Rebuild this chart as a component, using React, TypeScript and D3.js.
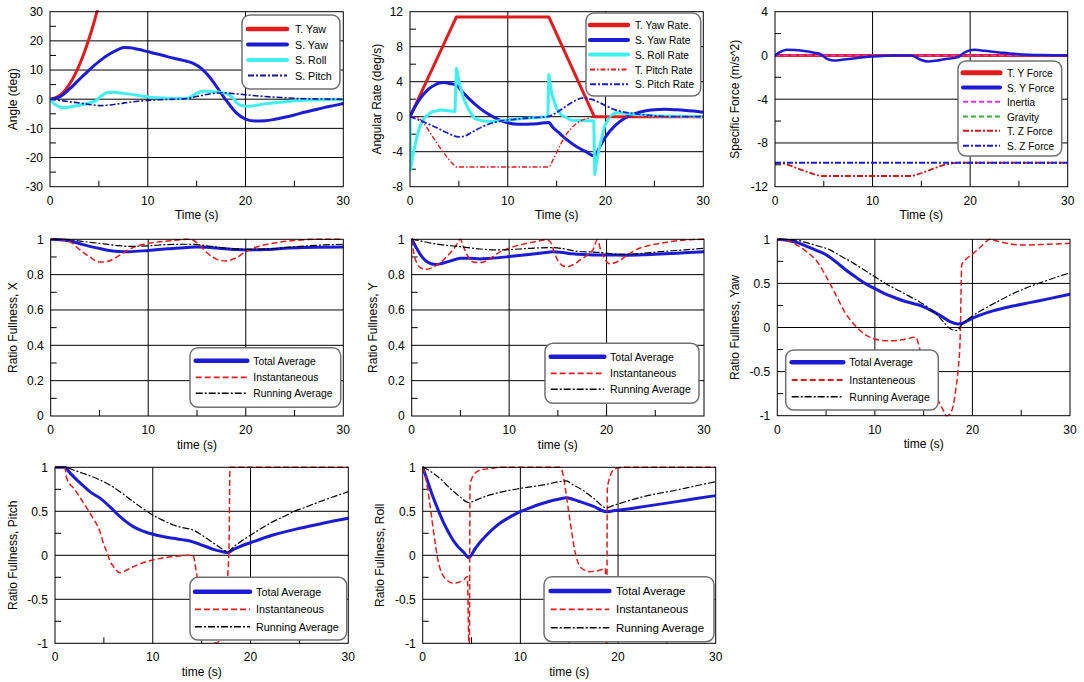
import React from 'react';
import * as d3 from 'd3';

type Pt = [number, number];

// ---------- shared axis values ----------
const timeTicks = [0, 10, 20, 30];
const timeMinor = [5, 15, 25];
const angleTicks = [-30, -20, -10, 0, 10, 20, 30];
const angleMinor = [-25, -15, -5, 5, 15, 25];
const rateTicks = [-8, -4, 0, 4, 8, 12];
const rateMinor = [-6, -2, 2, 6, 10];
const forceTicks = [-12, -8, -4, 0, 4];
const forceMinor = [-10, -6, -2, 2];
const fullTicks01 = [0, 0.2, 0.4, 0.6, 0.8, 1];
const fullMinor01 = [0.1, 0.3, 0.5, 0.7, 0.9];
const fullTicksPM = [-1, -0.5, 0, 0.5, 1];
const fullMinorPM = [-0.75, -0.25, 0.25, 0.75];

// ---------- panel 1: angles ----------
const angleTYaw: Pt[] = [[0,0],[1,1.3],[1.5,2.9],[2,5.2],[2.5,8.1],[3,11.7],[3.5,15.9],[4,20.8],[4.5,26.3],[5,32.5],[5.5,39]];
const angleSYaw: Pt[] = [[0,0],[1,0.8],[2,3.5],[3,6.8],[4,10],[5,12.9],[6,15.3],[7,17.1],[7.6,17.7],[8.2,17.6],[9,17.1],[10,16.3],[11,15.5],[12,14.6],[13,13.8],[14,13.0],[14.7,12.2],[15.5,10.5],[16.3,7.7],[17,4.5],[18,-0.3],[19,-4.5],[20,-6.8],[21,-7.5],[22,-7.4],[23,-6.9],[24,-6.2],[25,-5.4],[26,-4.5],[27,-3.7],[28,-2.9],[29,-2.2],[30,-1.5]];
const angleSRoll: Pt[] = [[0,0],[0.5,-1.8],[1,-2.7],[1.5,-2.9],[2,-2.7],[3,-2.1],[4,-1.3],[4.7,-0.5],[5.2,1.0],[5.8,2.2],[6.5,2.4],[7.5,2.0],[9,1.3],[10,0.8],[11,0.5],[12,0.3],[13,0.2],[14,0.2],[14.4,0.8],[15,2.0],[15.7,2.7],[16.5,2.6],[17.3,2.4],[18,2.0],[18.7,0.5],[19.3,-1.8],[20,-2.4],[20.7,-2.3],[22,-1.6],[24,-0.9],[26,-0.4],[28,-0.2],[30,-0.1]];
const angleSPitch: Pt[] = [[0,0],[1,-0.4],[2,-0.9],[3,-1.3],[4,-1.8],[5.3,-2.2],[6,-2.0],[7,-1.6],[8,-1.1],[9,-0.7],[10,-0.4],[11,-0.2],[12,-0.1],[13,0],[14,0.2],[15,0.9],[16,1.6],[17,2.1],[17.7,2.2],[18.5,2.0],[19.5,1.7],[21,1.2],[22.5,0.8],[24,0.5],[25.5,0.2],[27,0.1],[30,0]];

// ---------- panel 2: angular rates ----------
const rateTYaw: Pt[] = [[0,0],[4.75,11.4],[14.2,11.4],[18.85,0],[30,0]];
const rateSYaw: Pt[] = [[0,0],[0.5,1.1],[1,2.0],[1.5,2.7],[2,3.25],[2.5,3.6],[3,3.85],[3.5,3.9],[4,3.8],[4.75,3.6],[5.3,2.9],[6,2.1],[7,1.1],[8,0.3],[9,-0.3],[10,-0.7],[11,-0.85],[12,-0.85],[13,-0.8],[14.2,-0.65],[14.6,-1.2],[15.2,-1.8],[16,-2.6],[17,-3.4],[18,-4.0],[18.9,-4.5],[19.3,-3.7],[20,-2.3],[21,-1.0],[22,-0.15],[23,0.35],[24,0.65],[25,0.8],[26,0.85],[27,0.8],[28,0.75],[29,0.65],[30,0.5]];
const rateSRoll: Pt[] = [[0,0],[0.05,-6.1],[0.25,-4.6],[0.5,-3.4],[0.75,-2.1],[1,-1.1],[1.5,-0.1],[2.2,0.55],[3.2,0.76],[4.6,0.6],[4.75,5.5],[5.1,3.6],[5.5,2.0],[6,0.8],[6.6,-0.2],[7.5,-0.5],[8.5,-0.55],[9.7,-0.4],[11,-0.25],[13,-0.1],[14.1,0],[14.2,4.8],[14.5,2.6],[15,0.9],[15.5,0.2],[16.5,-0.4],[18.8,-0.5],[18.9,-6.6],[19.1,-5.0],[19.4,-3.4],[19.9,-1.1],[20.4,0],[21,0.45],[22,0.4],[23,0.25],[25,0.1],[27,0.05],[30,0]];
const rateTPitch: Pt[] = [[0,0],[0.8,-0.1],[1.5,-0.9],[2.5,-2.6],[3.5,-4.2],[4.3,-5.3],[4.8,-5.75],[14.2,-5.75],[14.6,-5.0],[15.3,-3.4],[16,-2.0],[16.8,-1.0],[17.6,-0.4],[18.5,-0.1],[19,0],[30,0]];
const rateSPitch: Pt[] = [[0,0],[1,-0.4],[2,-0.9],[3,-1.4],[4,-1.95],[5,-2.3],[5.5,-2.25],[6.3,-1.8],[7.3,-1.2],[8.3,-0.75],[9.5,-0.45],[10.7,-0.3],[12,-0.15],[13,-0.08],[14.1,0],[14.8,0.35],[15.5,0.85],[16.3,1.45],[17,1.9],[17.7,2.15],[18.5,2.0],[19.6,1.5],[20.8,0.85],[22,0.5],[23,0.35],[25,0.1],[27,0],[30,0]];

// ---------- panel 3: specific forces ----------
const forceGravity: Pt[] = [[0,0],[30,0]];
const forceTY: Pt[] = [[0,0],[30,0]];
const forceInertia: Pt[] = [[0,0],[30,0]];
const forceSY: Pt[] = [[0,0],[0.5,0.3],[1.2,0.52],[2,0.5],[3,0.4],[4,0.25],[4.7,0.1],[5.3,-0.3],[6,-0.46],[7,-0.38],[8,-0.28],[9.5,-0.12],[11,-0.05],[12.5,0],[14,0],[14.5,-0.2],[15,-0.42],[15.7,-0.55],[16.5,-0.48],[17.5,-0.32],[18.8,-0.15],[19.3,0.2],[19.8,0.42],[20.5,0.52],[21.5,0.42],[23,0.28],[24.5,0.15],[26,0.07],[27.5,0.03],[30,0]];
const forceTZ: Pt[] = [[0,-9.81],[0.7,-9.85],[1.5,-10.05],[2.5,-10.4],[3.5,-10.7],[4.3,-10.93],[5,-11.02],[14,-11.02],[14.5,-10.9],[15.5,-10.6],[16.5,-10.25],[17.5,-9.97],[18.5,-9.83],[19,-9.81],[30,-9.81]];
const forceSZ: Pt[] = [[0,-9.81],[30,-9.81]];

// ---------- panel 4: fullness X ----------
const fullXTotal: Pt[] = [[0,1],[1,0.998],[2,0.99],[3,0.975],[4,0.96],[5,0.948],[6,0.937],[7,0.931],[8,0.93],[10,0.937],[12,0.946],[14,0.954],[15,0.957],[16,0.955],[17.5,0.948],[19,0.942],[20,0.94],[22,0.942],[24,0.949],[26,0.953],[28,0.955],[30,0.957]];
const fullXInst: Pt[] = [[0,1],[1,0.999],[2,0.985],[3,0.94],[4,0.9],[5,0.872],[5.5,0.872],[6.5,0.89],[7.5,0.925],[8.5,0.955],[10,0.977],[12,0.99],[14,1.0],[14.6,0.995],[15.3,0.965],[16,0.925],[17,0.888],[17.9,0.877],[19,0.895],[20,0.93],[21,0.955],[22.5,0.975],[25,0.993],[27,1.0],[30,1.0]];
const fullXRun: Pt[] = [[0,1],[2,0.998],[3,0.99],[5,0.977],[7,0.964],[8,0.96],[10,0.963],[12,0.97],[14,0.972],[15,0.97],[16.5,0.96],[18,0.95],[20,0.943],[22,0.944],[24,0.953],[26,0.962],[28,0.968],[30,0.972]];

// ---------- panel 5: fullness Y ----------
const fullYTotal: Pt[] = [[0,1],[0.25,0.975],[0.5,0.95],[1,0.905],[1.5,0.876],[2,0.862],[2.5,0.858],[3,0.862],[4,0.878],[5,0.893],[6,0.893],[7,0.889],[8,0.892],[10,0.902],[12,0.914],[14,0.927],[14.5,0.93],[15.5,0.925],[16.5,0.918],[18,0.913],[19,0.911],[20,0.911],[22,0.91],[24,0.913],[26,0.918],[28,0.924],[30,0.93]];
const fullYInst: Pt[] = [[0,1],[0.35,0.89],[1,0.836],[1.5,0.83],[2,0.837],[2.6,0.855],[3.2,0.88],[3.9,0.92],[4.5,0.96],[5,1.0],[5.3,0.96],[5.7,0.91],[6.3,0.872],[7,0.868],[7.6,0.876],[8.3,0.9],[9.1,0.93],[10,0.95],[11.1,0.968],[12.5,0.985],[13.9,0.996],[14.3,0.98],[14.6,0.93],[15,0.88],[15.5,0.85],[16,0.845],[16.7,0.86],[17.3,0.883],[18,0.91],[18.6,0.94],[19.05,0.996],[19.4,0.94],[19.8,0.89],[20.3,0.862],[21,0.87],[22,0.905],[22.8,0.935],[24,0.96],[25.5,0.977],[27,0.99],[28.5,0.997],[30,1.0]];
const fullYRun: Pt[] = [[0,1],[1,0.99],[2,0.978],[3.25,0.968],[5,0.958],[7,0.945],[9,0.94],[11,0.945],[12.5,0.95],[14.5,0.953],[16,0.942],[17,0.932],[19.3,0.926],[21.4,0.915],[23,0.918],[25.5,0.93],[28,0.94],[30,0.949]];

// ---------- panel 6: fullness yaw ----------
const fullYawTotal: Pt[] = [[0,1],[1,0.99],[2,0.965],[3,0.92],[4,0.875],[5,0.825],[6,0.745],[7,0.655],[8,0.575],[9,0.5],[10,0.44],[11,0.385],[12,0.34],[13,0.3],[14,0.27],[15,0.235],[16,0.18],[17,0.115],[17.7,0.066],[18.5,0.04],[19,0.05],[19.5,0.078],[20.5,0.128],[22,0.185],[24,0.24],[26,0.285],[28,0.33],[30,0.376]];
const fullYawInst: Pt[] = [[0,1],[1,0.985],[2,0.935],[3,0.86],[4,0.76],[5,0.58],[6,0.37],[7,0.16],[8,0.02],[9,-0.08],[10,-0.13],[11,-0.15],[12,-0.15],[13,-0.135],[14.2,-0.11],[14.6,-0.24],[15.3,-0.45],[16,-0.69],[16.6,-0.85],[17,-0.935],[17.35,-1.0],[17.7,-0.98],[18,-0.9],[18.3,-0.7],[18.55,-0.46],[18.75,-0.1],[18.85,0.5],[18.9,0.71],[19.5,0.79],[20.1,0.84],[21,0.93],[21.8,1.0],[22.5,0.98],[23.5,0.955],[25.2,0.935],[27,0.94],[30,0.955]];
const fullYawRun: Pt[] = [[0,1],[2,0.99],[2.7,0.97],[4,0.93],[5.4,0.88],[6.5,0.81],[7.8,0.73],[9,0.645],[10.2,0.56],[11.4,0.48],[12.6,0.41],[13.6,0.35],[14.6,0.29],[15.3,0.24],[16,0.18],[16.5,0.13],[17,0.066],[17.7,-0.01],[18.4,-0.035],[18.9,0.03],[19.6,0.1],[20.4,0.16],[21.5,0.23],[22.5,0.29],[23.7,0.36],[24.9,0.42],[26,0.47],[27.3,0.52],[28.6,0.57],[30,0.62]];

// ---------- panel 7: fullness pitch ----------
const fullPitchTotal: Pt[] = [[0,1],[1,1],[1.5,0.94],[2.2,0.86],[2.9,0.79],[3.6,0.72],[4.6,0.65],[5.6,0.553],[6.65,0.44],[7.3,0.38],[8,0.326],[9,0.275],[10,0.239],[11,0.214],[12.1,0.193],[13,0.178],[13.8,0.163],[14.8,0.125],[15.5,0.097],[16.2,0.068],[17,0.045],[17.7,0.03],[18.3,0.07],[18.9,0.098],[20.3,0.155],[22.3,0.23],[25,0.307],[27.4,0.364],[30,0.42]];
const fullPitchInst: Pt[] = [[0,1],[1,1],[1.2,0.875],[2,0.75],[2.6,0.65],[3.3,0.53],[3.9,0.42],[4.6,0.27],[5,0.12],[5.3,0.04],[5.6,-0.06],[6,-0.13],[6.65,-0.197],[7.3,-0.17],[8,-0.13],[9,-0.085],[10,-0.053],[11,-0.03],[12.1,-0.015],[13,-0.005],[14.1,0],[14.5,-0.22],[15,-0.55],[15.8,-0.9],[16.5,-1.0],[17.2,-0.85],[17.55,-0.6],[17.66,-0.26],[17.8,0.1],[17.9,1.0],[30,1.0]];
const fullPitchRun: Pt[] = [[0,1],[1,1],[2,0.965],[2.9,0.93],[4.6,0.856],[5.6,0.8],[6.8,0.71],[8,0.61],[9,0.53],[10,0.458],[11,0.4],[12.1,0.345],[13,0.315],[14.1,0.288],[14.8,0.245],[15.5,0.193],[16.2,0.14],[16.9,0.087],[17.7,0.042],[18.3,0.1],[18.9,0.148],[20.3,0.25],[21.3,0.32],[22.3,0.383],[23.4,0.44],[24.4,0.496],[25.7,0.55],[27.1,0.61],[28.6,0.67],[30,0.723]];

// ---------- panel 8: fullness roll ----------
const fullRollTotal: Pt[] = [[0,1],[0.4,0.875],[0.75,0.76],[1.1,0.65],[1.6,0.51],[2.1,0.38],[2.6,0.27],[3.1,0.174],[3.6,0.1],[4.2,0.035],[4.7,-0.027],[5.4,0.08],[6,0.165],[6.55,0.23],[7.2,0.3],[7.9,0.364],[9,0.44],[10,0.496],[11,0.54],[12,0.58],[13,0.615],[14,0.64],[14.7,0.655],[15.4,0.635],[16.1,0.61],[17.5,0.555],[18.8,0.496],[19.5,0.505],[20.2,0.515],[22.6,0.553],[26,0.61],[28,0.645],[30,0.678]];
const fullRollInst: Pt[] = [[0,1],[0.24,0.91],[0.5,0.76],[0.75,0.57],[1,0.36],[1.26,0.155],[1.5,-0.02],[1.77,-0.148],[2.1,-0.23],[2.46,-0.28],[3.1,-0.318],[3.6,-0.31],[4.2,-0.28],[4.57,-0.24],[4.65,-0.6],[4.72,-1.0],[4.78,-1.0],[4.85,0.8],[5.2,0.91],[5.9,0.97],[7.2,0.99],[8,1.0],[14,1.0],[14.3,0.95],[14.6,0.76],[15.1,0.38],[15.6,0.04],[16.1,-0.13],[16.6,-0.17],[17.1,-0.186],[18.2,-0.167],[18.7,-0.148],[18.75,-0.6],[18.8,-1.0],[18.85,-1.0],[18.9,0.75],[19.2,0.9],[19.5,0.97],[20.5,1.0],[30,1.0]];
const fullRollRun: Pt[] = [[0,1],[0.5,0.975],[1.1,0.93],[2,0.85],[2.8,0.76],[3.8,0.667],[4.7,0.6],[5.3,0.62],[5.9,0.648],[7,0.69],[7.9,0.716],[10,0.76],[12.35,0.8],[14.7,0.845],[15.4,0.8],[16.1,0.76],[17.5,0.648],[18.8,0.54],[19.5,0.565],[20.2,0.59],[22.6,0.667],[26,0.742],[28,0.79],[30,0.837]];

// ---------- styles ----------
const RED = '#e01c1c';
const BLUE = '#1c1cd4';
const CYAN = '#40f0f0';
const NAVY = '#14149a';
const DKRED = '#c81a1a';
const MAGENTA = '#dd38dd';
const GREEN = '#3aaa3a';
const BLACK = '#000000';
const FONT = "'Liberation Sans', Arial, Helvetica, sans-serif";

interface Series {
  name?: string;
  data: Pt[];
  color: string;
  w: number;
  lw?: number;
  dash?: string;
  linear?: boolean;
}
interface Legend {
  x: number; y: number; w: number; h: number;
  rows: number[]; lx0: number; lx1: number; tx: number; sx: number;
}
interface PanelDef {
  x0: number; x1: number; y0: number; y1: number;
  yDomain: [number, number];
  yTicks: number[]; yMinor: number[];
  xTitle: string; yTitle: string; yTitleX: number;
  series: Series[]; legendOrder: Series[]; legend: Legend;
}

const totalStyle = (d: Pt[]): Series => ({ name: 'Total Average', data: d, color: BLUE, w: 3, lw: 4.5 });
const instStyle = (d: Pt[], name = 'Instantaneous'): Series => ({ name, data: d, color: RED, w: 1.5, lw: 1.8, dash: '6,3' });
const runStyle = (d: Pt[]): Series => ({ name: 'Running Average', data: d, color: BLACK, w: 1.2, lw: 1.5, dash: '7,2,2,2' });

function fullPanel(x0: number, x1: number, y0: number, y1: number, pm: boolean, yTitle: string, yTitleX: number,
  tot: Pt[], inst: Pt[], run: Pt[], legend: Legend, instName = 'Instantaneous'): PanelDef {
  const t = totalStyle(tot), i = instStyle(inst, instName), r = runStyle(run);
  return {
    x0, x1, y0, y1,
    yDomain: pm ? [-1, 1] : [0, 1],
    yTicks: pm ? fullTicksPM : fullTicks01,
    yMinor: pm ? fullMinorPM : fullMinor01,
    xTitle: 'time (s)', yTitle, yTitleX,
    series: [t, i, r], legendOrder: [t, i, r], legend,
  };
}

const p1Series: Series[] = [
  { name: 'T. Yaw', data: angleTYaw, color: RED, w: 3, lw: 4.5 },
  { name: 'S. Yaw', data: angleSYaw, color: BLUE, w: 3, lw: 4 },
  { name: 'S. Roll', data: angleSRoll, color: CYAN, w: 3, lw: 4 },
  { name: 'S. Pitch', data: angleSPitch, color: NAVY, w: 1.6, lw: 2, dash: '6,2,2,2' },
];
const p2Series: Series[] = [
  { name: 'T. Yaw Rate.', data: rateTYaw, color: RED, w: 3, lw: 4.5, linear: true },
  { name: 'S. Yaw Rate', data: rateSYaw, color: BLUE, w: 3, lw: 4 },
  { name: 'S. Roll Rate', data: rateSRoll, color: CYAN, w: 3, lw: 4, linear: true },
  { name: 'T. Pitch Rate', data: rateTPitch, color: RED, w: 1.4, lw: 1.8, dash: '5,2,1.5,2' },
  { name: 'S. Pitch Rate', data: rateSPitch, color: BLUE, w: 1.8, lw: 2, dash: '6,2,2,2' },
];
const p3TY: Series = { name: 'T. Y Force', data: forceTY, color: RED, w: 3, lw: 5, linear: true };
const p3SY: Series = { name: 'S. Y Force', data: forceSY, color: BLUE, w: 2.5, lw: 4 };
const p3In: Series = { name: 'Inertia', data: forceInertia, color: MAGENTA, w: 1.5, lw: 2, dash: '5,3', linear: true };
const p3Gr: Series = { name: 'Gravity', data: forceGravity, color: GREEN, w: 1.5, lw: 2, dash: '5,3', linear: true };
const p3TZ: Series = { name: 'T. Z Force', data: forceTZ, color: DKRED, w: 1.8, lw: 2, dash: '6,2,2,2' };
const p3SZ: Series = { name: 'S. Z Force', data: forceSZ, color: BLUE, w: 1.8, lw: 2, dash: '6,2,2,2', linear: true };

const panels: PanelDef[] = [
  {
    x0: 50, x1: 343.3, y0: 11.7, y1: 186.7, yDomain: [-30, 30], yTicks: angleTicks, yMinor: angleMinor,
    xTitle: 'Time (s)', yTitle: 'Angle (deg)', yTitleX: 13,
    series: p1Series, legendOrder: p1Series,
    legend: { x: 242, y: 15, w: 98, h: 74, rows: [29, 44.5, 60, 75.5], lx0: 248, lx1: 287, tx: 295, sx: 0.93 },
  },
  {
    x0: 410, x1: 703.3, y0: 11.7, y1: 186.7, yDomain: [-8, 12], yTicks: rateTicks, yMinor: rateMinor,
    xTitle: 'Time (s)', yTitle: 'Angular Rate (deg/s)', yTitleX: 377,
    series: p2Series, legendOrder: p2Series,
    legend: { x: 586, y: 13, w: 114.7, h: 83, rows: [25, 40, 54.5, 69.5, 84.3], lx0: 590, lx1: 628, tx: 635, sx: 0.88 },
  },
  {
    x0: 775, x1: 1067.7, y0: 11.7, y1: 186.7, yDomain: [-12, 4], yTicks: forceTicks, yMinor: forceMinor,
    xTitle: 'Time (s)', yTitle: 'Specific Force (m/s^2)', yTitleX: 735,
    series: [p3Gr, p3TY, p3In, p3SY, p3TZ, p3SZ], legendOrder: [p3TY, p3SY, p3In, p3Gr, p3TZ, p3SZ],
    legend: { x: 958, y: 61, w: 103.7, h: 95, rows: [72.7, 87.5, 101.7, 116.5, 130.7, 145.7], lx0: 963, lx1: 1000, tx: 1007, sx: 0.88 },
  },
  fullPanel(50.7, 343.3, 239.3, 416, false, 'Ratio Fullness, X', 12.7, fullXTotal, fullXInst, fullXRun,
    { x: 190, y: 347.7, w: 150.7, h: 59.6, rows: [360.7, 377.3, 393.3], lx0: 195.7, lx1: 247.3, tx: 253.3, sx: 0.9 }),
  fullPanel(411.7, 704, 239.3, 416, false, 'Ratio Fullness, Y', 373.3, fullYTotal, fullYInst, fullYRun,
    { x: 545, y: 343.3, w: 154, h: 60, rows: [356.7, 373.3, 389.3], lx0: 550.7, lx1: 604.3, tx: 610, sx: 0.92 }),
  fullPanel(777.3, 1070, 239.3, 415.7, true, 'Ratio Fullness, Yaw', 735, fullYawTotal, fullYawInst, fullYawRun,
    { x: 785.7, y: 350, w: 152.6, h: 60, rows: [362.3, 380, 396.7], lx0: 791.7, lx1: 843.3, tx: 849.3, sx: 0.915 }, 'Instanteneous'),
  fullPanel(55, 348.3, 467.3, 643.3, true, 'Ratio Fullness, Pitch', 12.7, fullPitchTotal, fullPitchInst, fullPitchRun,
    { x: 190, y: 577.3, w: 156.7, h: 62.7, rows: [591.7, 609.3, 626.7], lx0: 195, lx1: 250, tx: 256, sx: 0.94 }),
  fullPanel(422.7, 715.7, 467.3, 643.3, true, 'Ratio Fullness, Roll', 380, fullRollTotal, fullRollInst, fullRollRun,
    { x: 544, y: 576.7, w: 170, h: 65, rows: [591, 609.3, 627.7], lx0: 550.7, lx1: 609.3, tx: 616, sx: 1.0 }),
];

function Panel({ p, id }: { p: PanelDef; id: number }) {
  const x = d3.scaleLinear().domain([0, 30]).range([p.x0, p.x1]);
  const y = d3.scaleLinear().domain(p.yDomain).range([p.y1, p.y0]);
  const path = (s: Series) =>
    d3.line<Pt>().x(d => x(d[0])).y(d => y(d[1])).curve(s.linear ? d3.curveLinear : d3.curveMonotoneX)(s.data) || '';
  const clipId = `clip-${id}`;
  const [d0, d1] = p.yDomain;
  const L = p.legend;
  return (
    <g>
      <defs>
        <clipPath id={clipId}>
          <rect x={p.x0} y={p.y0 - 1.5} width={p.x1 - p.x0} height={p.y1 - p.y0 + 3} />
        </clipPath>
      </defs>
      <rect x={p.x0} y={p.y0} width={p.x1 - p.x0} height={p.y1 - p.y0} fill="#fff" />
      {timeTicks.filter(t => t > 0 && t < 30).map(t => (
        <line key={'gx' + t} x1={x(t)} x2={x(t)} y1={p.y0} y2={p.y1} stroke="#000" strokeWidth={1} />
      ))}
      {p.yTicks.filter(v => v > d0 && v < d1).map(v => (
        <line key={'gy' + v} x1={p.x0} x2={p.x1} y1={y(v)} y2={y(v)} stroke="#000" strokeWidth={1} />
      ))}
      {timeMinor.map(t => (
        <line key={'mx' + t} x1={x(t)} x2={x(t)} y1={p.y1} y2={p.y1 - 6} stroke="#000" strokeWidth={1} />
      ))}
      {p.yMinor.map(v => (
        <line key={'my' + v} x1={p.x0} x2={p.x0 + 6} y1={y(v)} y2={y(v)} stroke="#000" strokeWidth={1} />
      ))}
      <g clipPath={`url(#${clipId})`}>
        {p.series.map((s, i) => (
          <path key={i} d={path(s)} fill="none" stroke={s.color} strokeWidth={s.w}
            strokeDasharray={s.dash} strokeLinejoin="round" strokeLinecap={s.dash ? 'butt' : 'round'} />
        ))}
      </g>
      <rect x={p.x0} y={p.y0} width={p.x1 - p.x0} height={p.y1 - p.y0} fill="none" stroke="#000" strokeWidth={1} />
      {timeTicks.map(t => (
        <text key={'tx' + t} x={x(t)} y={p.y1 + 18} textAnchor="middle" fontSize={12} fontFamily={FONT}>{t}</text>
      ))}
      {p.yTicks.map(v => (
        <text key={'ty' + v} x={p.x0 - 7} y={y(v) + 4.3} textAnchor="end" fontSize={12} fontFamily={FONT}>{String(v)}</text>
      ))}
      <text x={(p.x0 + p.x1) / 2} y={p.y1 + 32.5} textAnchor="middle" fontSize={12} fontFamily={FONT}>{p.xTitle}</text>
      <text transform={`translate(${p.yTitleX},${(p.y0 + p.y1) / 2}) rotate(-90)`} textAnchor="middle"
        dominantBaseline="central" fontSize={12} fontFamily={FONT}>{p.yTitle}</text>
      <rect x={L.x} y={L.y} width={L.w} height={L.h} rx={8} ry={8} fill="#fff" stroke="#707070" strokeWidth={1.5} />
      {p.legendOrder.map((s, i) => (
        <g key={'lg' + i}>
          <line x1={L.lx0} x2={L.lx1} y1={L.rows[i]} y2={L.rows[i]} stroke={s.color} strokeWidth={s.lw ?? s.w}
            strokeDasharray={s.dash} strokeLinecap={s.dash ? 'butt' : 'round'} />
          <text transform={`translate(${L.tx},${L.rows[i] + 4}) scale(${L.sx},1)`} fontSize={11.5} fontFamily={FONT}>{s.name}</text>
        </g>
      ))}
    </g>
  );
}

export default function App() {
  return (
    <svg width={1084} height={682} style={{ position: 'absolute', left: 0, top: 0, background: '#fff' }}>
      <rect x={0} y={0} width={1084} height={682} fill="#fff" />
      {panels.map((p, i) => <Panel key={i} p={p} id={i} />)}
    </svg>
  );
}
